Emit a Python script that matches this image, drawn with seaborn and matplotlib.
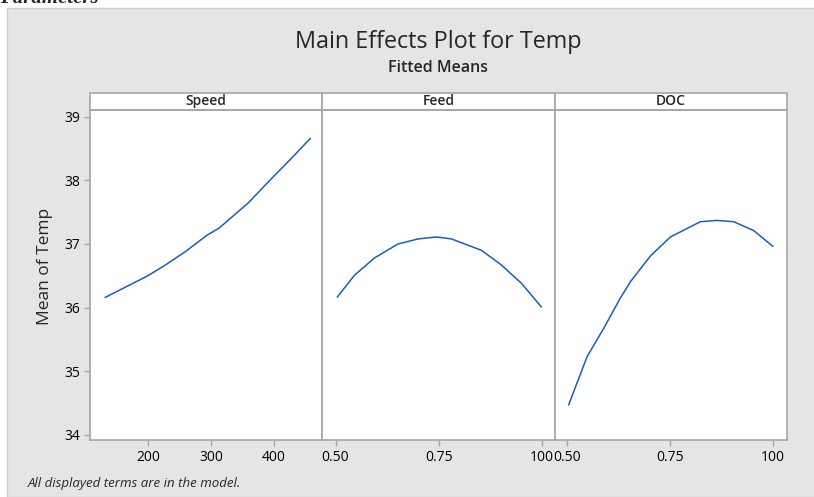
import numpy as np
import pandas as pd
import matplotlib
matplotlib.use("Agg")
import matplotlib.pyplot as plt
from matplotlib.patches import Rectangle
import seaborn as sns

# values
speed = [130.6, 197, 224, 259, 294, 313, 359, 397, 426, 459]
speed_temp = [36.16, 36.49, 36.65, 36.88, 37.14, 37.25, 37.64, 38.03, 38.32, 38.66]

feed = [0.504, 0.546, 0.594, 0.651, 0.700, 0.744, 0.780, 0.853, 0.901, 0.950, 0.998]
feed_temp = [36.165, 36.51, 36.78, 37.00, 37.08, 37.11, 37.08, 36.90, 36.67, 36.38, 36.01]

doc = [0.503, 0.548, 0.589, 0.629, 0.654, 0.702, 0.751, 0.824, 0.864, 0.905, 0.954, 1.001]
doc_temp = [34.47, 35.23, 35.68, 36.15, 36.41, 36.81, 37.11, 37.35, 37.37, 37.35, 37.21, 36.96]

panels = ["Speed", "Feed", "DOC"]
xticks = {"Speed": [200, 300, 400], "Feed": [0.50, 0.75, 1.00], "DOC": [0.50, 0.75, 1.00]}
xticklabels = {"Speed": ["200", "300", "400"], "Feed": ["0.50", "0.75", "100"], "DOC": ["0.50", "0.75", "100"]}
xlims = {"Speed": (106.5, 478), "Feed": (0.468, 1.03), "DOC": (0.469, 1.035)}
yticks = [34, 35, 36, 37, 38, 39]

df = pd.concat([
    pd.DataFrame({"factor": "Speed", "level": speed, "temp": speed_temp}),
    pd.DataFrame({"factor": "Feed", "level": feed, "temp": feed_temp}),
    pd.DataFrame({"factor": "DOC", "level": doc, "temp": doc_temp}),
])

sns.set_theme(style="white")
plt.rcParams["font.family"] = ["Open Sans", "DejaVu Sans"]

grey = "#a6a6a6"
fig = plt.figure(figsize=(8.14, 4.97), dpi=100)
fig.patch.set_facecolor("white")
fig.patches.append(Rectangle((7/814, 0), 1, 1 - 8/497, transform=fig.transFigure,
                             facecolor="#e5e5e5", edgecolor="#cfcfcf", lw=1, zorder=-10))

gs = fig.add_gridspec(1, 3, left=90/814, right=787/814, bottom=1-440/497, top=1-110/497, wspace=0)
axes = [fig.add_subplot(gs[0, i]) for i in range(3)]

for i, (ax, name) in enumerate(zip(axes, panels)):
    sub = df[df["factor"] == name]
    sns.lineplot(data=sub, x="level", y="temp", ax=ax, color="#1a5fb4", lw=1.1, sort=False)
    ax.set_facecolor("white")
    ax.set_xlim(*xlims[name])
    ax.set_ylim(33.92, 39.105)
    ax.set_xticks(xticks[name])
    ax.set_xticklabels(xticklabels[name])
    ax.set_yticks(yticks)
    ax.set_xlabel("")
    ax.set_ylabel("")
    for s in ax.spines.values():
        s.set_color(grey)
        s.set_linewidth(1.2)
    ax.tick_params(axis="both", direction="out", length=4, width=1, color=grey,
                   labelsize=10, labelcolor="black", pad=3, bottom=True)
    if i == 0:
        ax.tick_params(axis="y", left=True)
    else:
        ax.tick_params(axis="y", left=False, labelleft=False)
    # facet strip
    ax.add_patch(Rectangle((0, 1), 1, 17/330, transform=ax.transAxes, clip_on=False,
                           facecolor="white", edgecolor=grey, lw=1.2))
    ax.text(0.5, 1 + 8.5/330, name, transform=ax.transAxes, ha="center", va="center",
            fontsize=10, fontweight="semibold")

fig.text(45/814, 1 - 266/497, "Mean of Temp", rotation=90, ha="center", va="center", fontsize=12.5)
fig.text(438/814, 1 - 42/497, "Main Effects Plot for Temp", ha="center", va="center", fontsize=16.8)
fig.text(438/814, 1 - 68/497, "Fitted Means", ha="center", va="center", fontsize=11.5, fontweight="semibold")
fig.text(28/814, 1 - 483/497, "All displayed terms are in the model.", ha="left", va="center",
         fontsize=9.5, style="italic")
fig.text(0, 1 + 2/497, "Parameters", ha="left", va="center", fontsize=15,
         family="Liberation Serif", style="italic", fontweight="bold")

fig.savefig("out.png", dpi=100)
